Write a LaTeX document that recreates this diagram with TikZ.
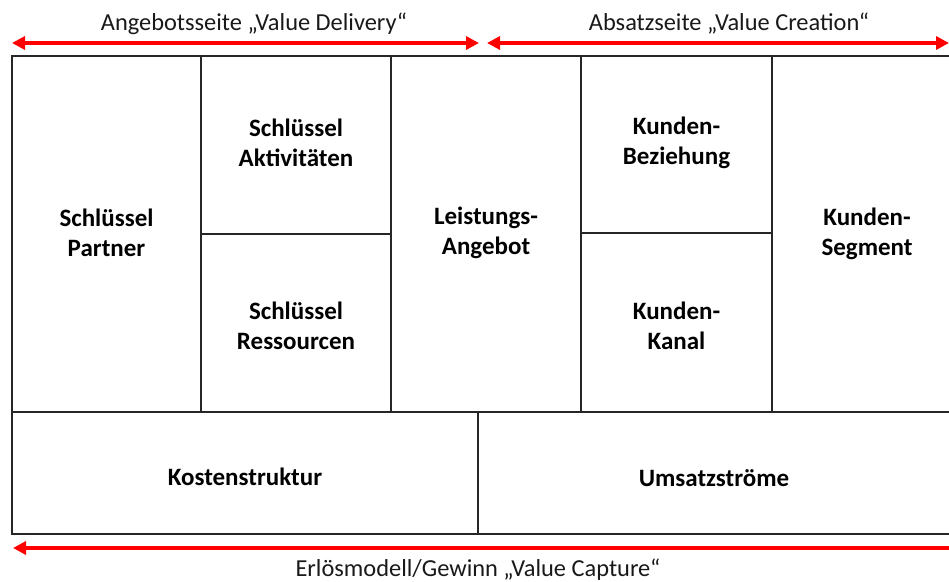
\documentclass[tikz,border=0pt]{standalone}
\usepackage{fontspec}
\setmainfont{Carlito}
\usetikzlibrary{arrows.meta}
\begin{document}
\begin{tikzpicture}[x=1pt,y=-1pt,
  labelfont/.style={font=\fontsize{25}{30}\selectfont\bfseries,align=center},
  cell/.style={draw=black!85,line width=1.6pt,rectangle,inner sep=0pt,labelfont},
  span/.style={draw=red,line width=3.6pt,{Triangle[length=13pt,width=13pt]}-{Triangle[length=13pt,width=13pt]}},
  spanleft/.style={draw=red,line width=3.6pt,{Triangle[length=13pt,width=13pt]}-},
  caption/.style={font=\fontsize{24.4}{29}\selectfont,inner sep=0pt,text=black!90}]
\useasboundingbox (0,0) rectangle (949,581);
\begin{scope}
\clip (0,0) rectangle (949,581);
% canvas cells (frames), labels placed separately
\node[cell,minimum width=189pt,minimum height=356pt] (partner) at (106.5,234) {};
\node[cell,minimum width=190pt,minimum height=178pt] (akt) at (296,145) {};
\node[cell,minimum width=190pt,minimum height=178pt] (res) at (296,323) {};
\node[cell,minimum width=190pt,minimum height=356pt] (angebot) at (486,234) {};
\node[cell,minimum width=191pt,minimum height=177pt] (bez) at (676.5,144.5) {};
\node[cell,minimum width=191pt,minimum height=179pt] (kanal) at (676.5,322.5) {};
\node[cell,minimum width=190pt,minimum height=356pt] (segment) at (867,234) {};
\node[cell,minimum width=466pt,minimum height=122pt] (kosten) at (245,473) {};
\node[cell,minimum width=490pt,minimum height=122pt] (umsatz) at (723,473) {};
% cell labels
\node[labelfont] (partnertext) at (106.5,233) {Schlüssel\\Partner};
\node[labelfont] (akttext) at (296,143) {Schlüssel\\Aktivitäten};
\node[labelfont] (restext) at (296,326) {Schlüssel\\Ressourcen};
\node[labelfont] (angebottext) at (486,233) {Leistungs-\\Angebot};
\node[labelfont] (beztext) at (676.5,143) {Kunden-\\Beziehung};
\node[labelfont] (kanaltext) at (676.5,326) {Kunden-\\Kanal};
\node[labelfont] (segtext) at (867,234) {Kunden-\\Segment};
\node[labelfont] (kostentext) at (245,477) {Kostenstruktur};
\node[labelfont] (umsatztext) at (714,478) {Umsatzströme};
% value arrows
\coordinate (d1) at (12,43);
\coordinate (d2) at (479,43);
\coordinate (c1) at (487,43);
\coordinate (c2) at (949,43);
\coordinate (p1) at (13,548);
\coordinate (p2) at (952,548);
\draw[span] (d1) -- (d2);
\draw[span] (c1) -- (c2);
\draw[spanleft] (p1) -- (p2);
\node[caption] (delivery) at (254,24) {Angebotsseite „Value Delivery“};
\node[caption] (creation) at (729,24) {Absatzseite „Value Creation“};
\node[caption] (capture) at (478,569.5) {Erlösmodell/Gewinn „Value Capture“};
\end{scope}
\end{tikzpicture}
\end{document}
